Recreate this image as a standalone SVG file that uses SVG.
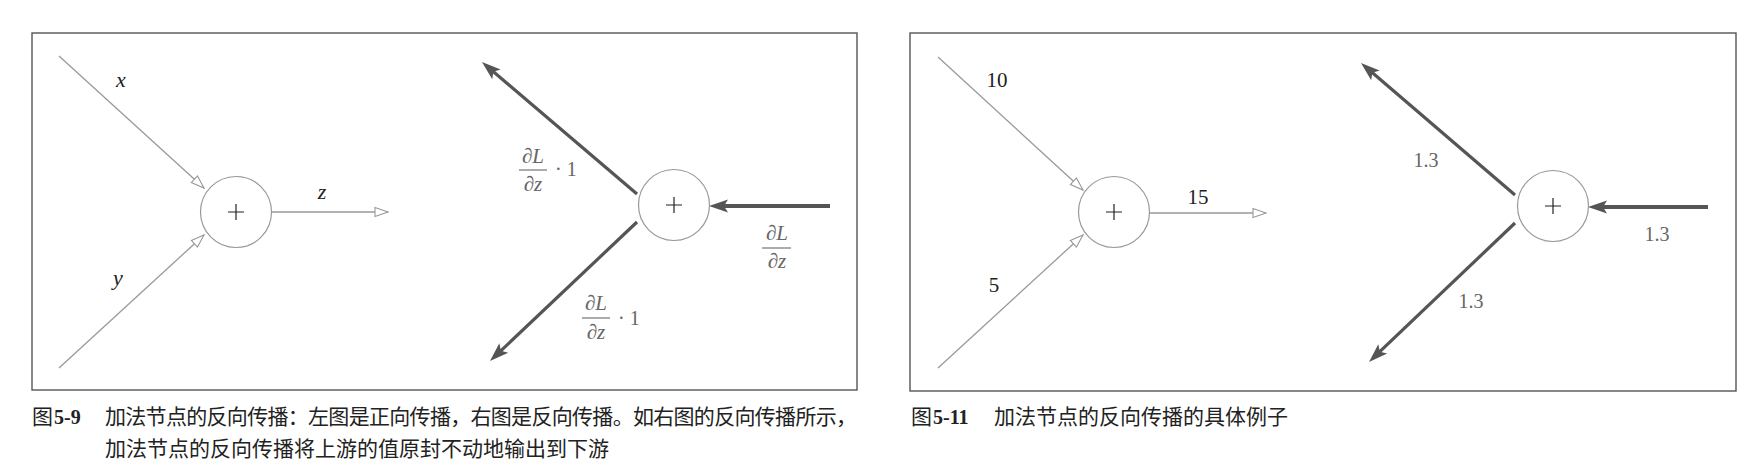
<svg xmlns="http://www.w3.org/2000/svg" width="1752" height="474" viewBox="0 0 1752 474">
<style>
.frame{fill:none;stroke:#555;stroke-width:1.4}
.node{fill:#fff;stroke:#999;stroke-width:1.2}
.plus{stroke:#222;stroke-width:1.2}
.fwd{stroke:#999;stroke-width:1.3;fill:none}
.bwd{stroke:#555;stroke-width:3.2;fill:none}
.bwdh{stroke:#555;stroke-width:3.8;fill:none}
.m{font-family:"Liberation Serif","DejaVu Serif",serif;font-style:italic;fill:#222;font-size:22px;text-anchor:middle}
.num{font-family:"Liberation Serif","DejaVu Serif",serif;fill:#222;font-size:21px;text-anchor:middle}
.gm{font-family:"Liberation Serif","DejaVu Serif",serif;font-style:italic;fill:#666;font-size:21px;text-anchor:middle}
.gn{font-family:"Liberation Serif","DejaVu Serif",serif;fill:#666;font-size:20px}
.gnc{font-family:"Liberation Serif","DejaVu Serif",serif;fill:#666;font-size:20px;text-anchor:middle}
.bar{stroke:#666;stroke-width:1.1}
.cap{font-family:"Noto Sans CJK SC","Noto Sans",sans-serif;fill:#222;font-size:21px}
.capn{font-family:"Liberation Serif",serif;font-weight:bold;fill:#222;font-size:20px}
</style>
<defs>
<marker id="open" viewBox="-15 -6 16 12" markerWidth="16" markerHeight="12" refX="0" refY="0" orient="auto" markerUnits="userSpaceOnUse">
<path d="M0,0 L-13,-4.5 L-13,4.5 Z" fill="#fff" stroke="#999" stroke-width="1.1"/>
</marker>
<marker id="solid" viewBox="-21 -8 22 16" markerWidth="22" markerHeight="16" refX="-12" refY="0" orient="auto" markerUnits="userSpaceOnUse">
<path d="M0,0 L-19,-6.5 L-15,0 L-19,6.5 Z" fill="#555"/>
</marker>
</defs>

<rect class="frame" x="32" y="33" width="825" height="357"/>
<rect class="frame" x="910" y="33" width="826" height="358"/>

<g id="connectors">
<line class="fwd" x1="59" y1="56" x2="204" y2="188" marker-end="url(#open)"/>
<line class="fwd" x1="59" y1="368" x2="204" y2="235" marker-end="url(#open)"/>
<line class="fwd" x1="271" y1="212" x2="388" y2="212" marker-end="url(#open)"/>
<line class="bwd" x1="637" y1="194" x2="491.1" y2="69.8" marker-end="url(#solid)"/>
<line class="bwd" x1="637" y1="222" x2="498.7" y2="352.8" marker-end="url(#solid)"/>
<line class="bwdh" x1="830" y1="206" x2="721" y2="206" marker-end="url(#solid)"/>
<line class="fwd" x1="938" y1="57" x2="1083" y2="190" marker-end="url(#open)"/>
<line class="fwd" x1="938" y1="368" x2="1083" y2="235" marker-end="url(#open)"/>
<line class="fwd" x1="1149" y1="213" x2="1266" y2="213" marker-end="url(#open)"/>
<line class="bwd" x1="1515" y1="195" x2="1370.1" y2="70.8" marker-end="url(#solid)"/>
<line class="bwd" x1="1515" y1="223" x2="1377.7" y2="353.7" marker-end="url(#solid)"/>
<line class="bwdh" x1="1708" y1="207" x2="1600" y2="207" marker-end="url(#solid)"/>
</g>

<g id="node-fwd-left">
<circle class="node" cx="236" cy="212" r="35.5"/>
<path class="plus" d="M228,212 H244 M236,204 V220"/>
</g>
<g id="node-bwd-left">
<circle class="node" cx="674" cy="205" r="35.5"/>
<path class="plus" d="M666,205 H682 M674,197 V213"/>
</g>
<g id="node-fwd-right">
<circle class="node" cx="1114" cy="212" r="35.5"/>
<path class="plus" d="M1106,212 H1122 M1114,204 V220"/>
</g>
<g id="node-bwd-right">
<circle class="node" cx="1553" cy="206" r="35.5"/>
<path class="plus" d="M1545,206 H1561 M1553,198 V214"/>
</g>

<g id="labels-left">
<text class="m" x="121" y="87">x</text>
<text class="m" x="118" y="285">y</text>
<text class="m" x="322" y="199">z</text>
<text class="gm" x="533" y="163">∂L</text>
<line class="bar" x1="519" y1="170" x2="547" y2="170"/>
<text class="gm" x="533" y="191">∂z</text>
<text class="gn" x="555" y="176">· 1</text>
<text class="gm" x="596" y="310">∂L</text>
<line class="bar" x1="582" y1="318" x2="610" y2="318"/>
<text class="gm" x="596" y="339">∂z</text>
<text class="gn" x="618" y="325">· 1</text>
<text class="gm" x="777" y="240">∂L</text>
<line class="bar" x1="762" y1="248" x2="791" y2="248"/>
<text class="gm" x="777" y="268">∂z</text>
</g>

<g id="labels-right">
<text class="num" x="997" y="87">10</text>
<text class="num" x="994" y="292">5</text>
<text class="num" x="1198" y="204">15</text>
<text class="gnc" x="1426" y="167">1.3</text>
<text class="gnc" x="1471" y="308">1.3</text>
<text class="gnc" x="1657" y="241">1.3</text>
</g>

<g id="caption-left">
<text class="cap" x="32" y="424">图</text>
<text class="capn" x="54" y="424">5-9</text>
<text class="cap" x="105" y="424" textLength="752" lengthAdjust="spacing">加法节点的反向传播：左图是正向传播，右图是反向传播。如右图的反向传播所示，</text>
<text class="cap" x="105" y="456">加法节点的反向传播将上游的值原封不动地输出到下游</text>
</g>
<g id="caption-right">
<text class="cap" x="911" y="424">图</text>
<text class="capn" x="933" y="424">5-11</text>
<text class="cap" x="994" y="424">加法节点的反向传播的具体例子</text>
</g>
</svg>
